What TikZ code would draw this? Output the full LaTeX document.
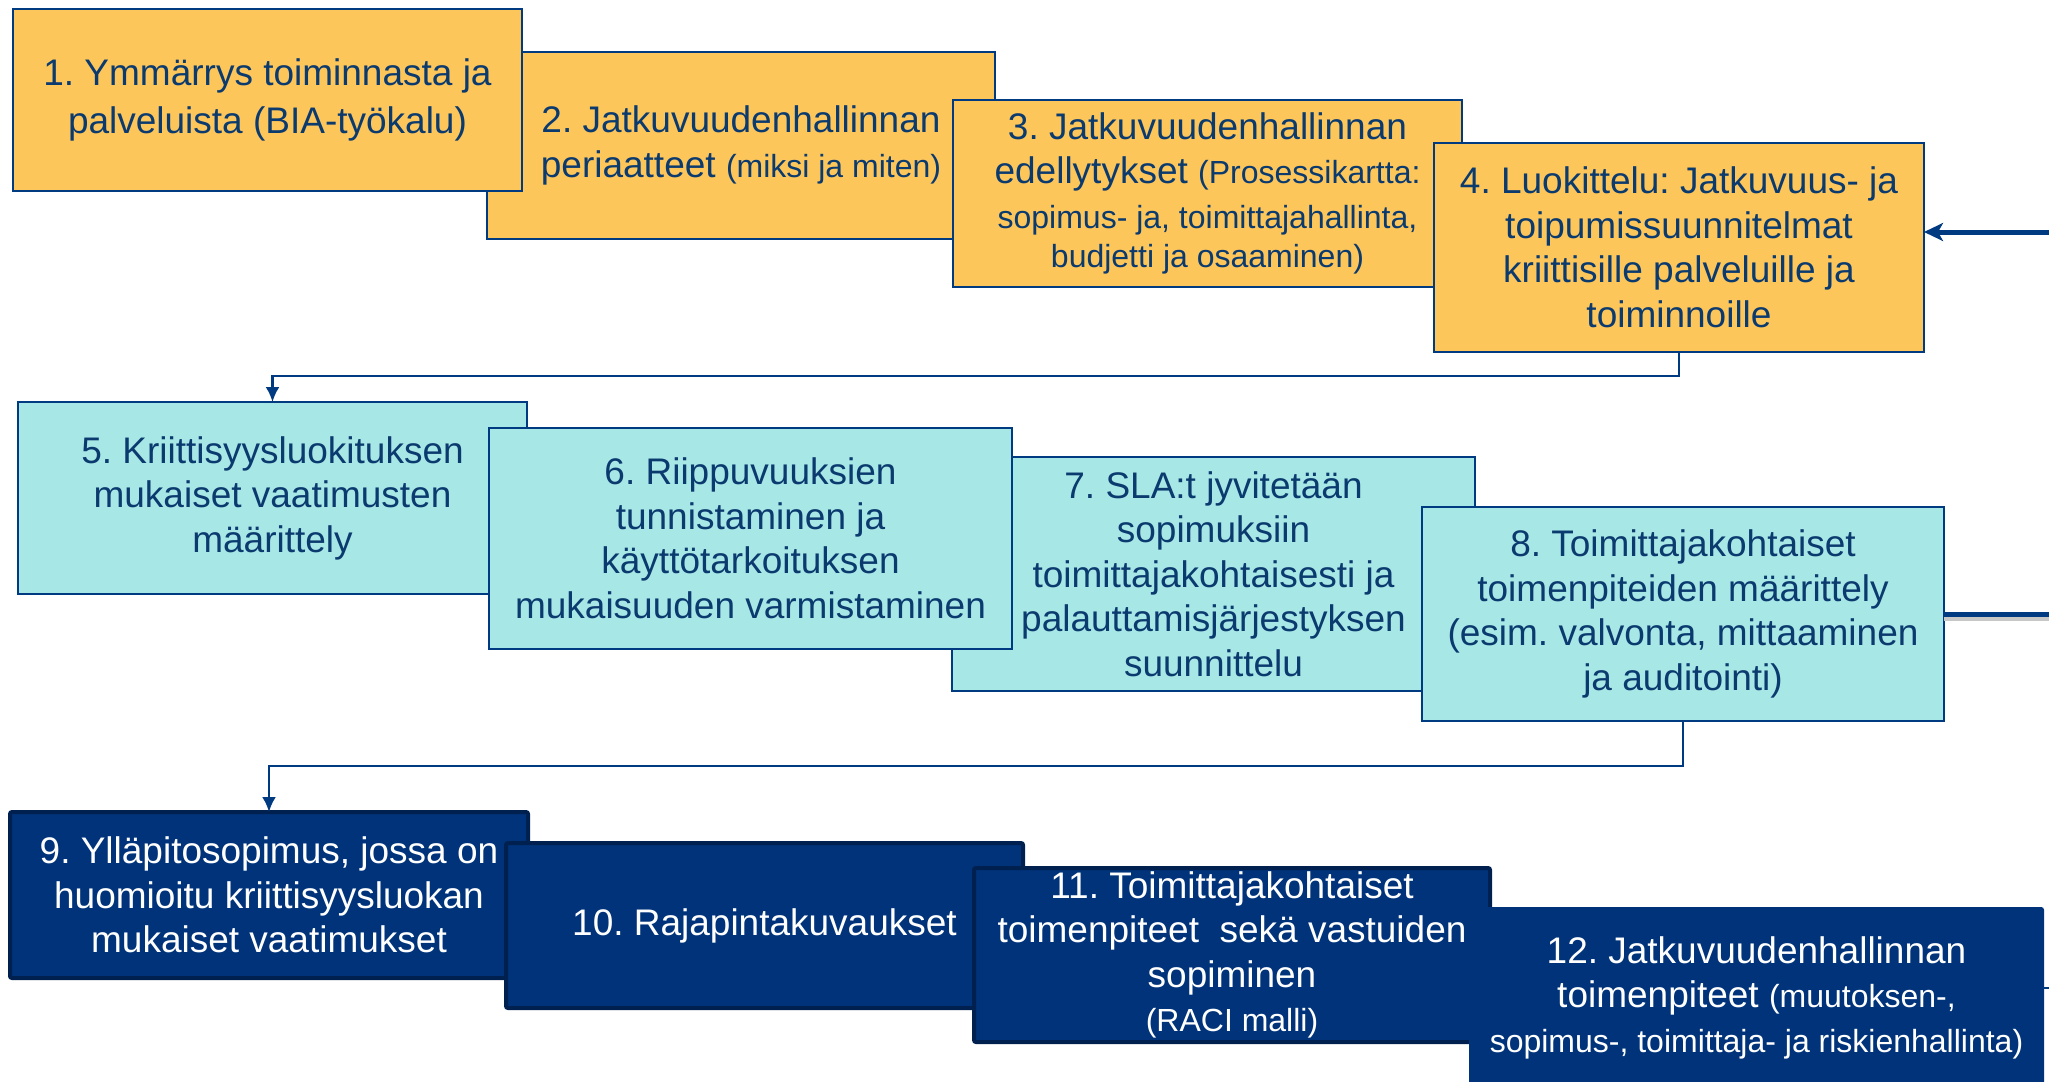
\documentclass[tikz,border=0pt]{standalone}
\usepackage{fontspec}
\setmainfont{Liberation Sans}
\usetikzlibrary{arrows.meta}
\definecolor{orangefill}{HTML}{FDC65A}
\definecolor{cyanfill}{HTML}{A7E7E6}
\definecolor{navyfill}{HTML}{00337A}
\definecolor{navyedge}{HTML}{00214F}
\definecolor{lineblue}{HTML}{003A80}
\definecolor{textblue}{HTML}{0B3A6F}
\newcommand{\mainsz}{\fontsize{37}{44.5}\selectfont\frenchspacing}
\newcommand{\smallsz}{\fontsize{32}{38}\selectfont}
\begin{document}
\begin{tikzpicture}[x=1pt,y=-1pt,
  box/.style={rectangle, inner sep=0pt, outer sep=0pt, align=center, font=\mainsz},
  ybox/.style={box, fill=orangefill, draw=lineblue, line width=2pt, text=textblue},
  cbox/.style={box, fill=cyanfill, draw=lineblue, line width=2pt, text=textblue},
  nbox/.style={box, fill=navyfill, draw=navyedge, line width=4pt, rounded corners=2pt, text=white},
  conn/.style={draw=lineblue, line width=2.5pt, -{Latex[length=15pt,width=14pt]}},
  thickarrow/.style={draw=lineblue, line width=5pt, -{Stealth[length=19pt,width=18pt,inset=5pt]}},
  thickline/.style={draw=lineblue, line width=5pt},
  shade/.style={draw=black!22, line width=4pt}
]
\clip (0,0) rectangle (2049,1081);
\fill[white] (0,0) rectangle (2049,1081);

% Row 1
\node[ybox, minimum width=508, minimum height=187] (b2) at (741,145.5)
  {2. Jatkuvuudenhallinnan\\periaatteet {\smallsz(miksi ja miten)}};
\node[ybox, minimum width=509, minimum height=182] (b1) at (267.5,100)
  {1. Ymmärrys toiminnasta ja\\[3.5pt]palveluista (BIA-työkalu)};
\node[ybox, minimum width=509, minimum height=187] (b3) at (1207.5,193.5)
  {3. Jatkuvuudenhallinnan\\edellytykset {\smallsz(Prosessikartta:}\\{\smallsz sopimus- ja, toimittajahallinta,}\\[-5pt]{\smallsz budjetti ja osaaminen)}};
\node[ybox, minimum width=490, minimum height=209] (b4) at (1679,247.5)
  {4. Luokittelu: Jatkuvuus- ja\\toipumissuunnitelmat\\kriittisille palveluille ja\\toiminnoille};

% Row 2
\node[cbox, minimum width=509, minimum height=192] (b5) at (272.5,498)
  {5. Kriittisyysluokituksen\\mukaiset vaatimusten\\määrittely};
\node[cbox, minimum width=523, minimum height=234] (b7) at (1213.5,574)
  {7. SLA:t jyvitetään\\sopimuksiin\\toimittajakohtaisesti ja\\palauttamisjärjestyksen\\suunnittelu};
\node[cbox, minimum width=523, minimum height=221] (b6) at (750.5,538.5)
  {6. Riippuvuuksien\\tunnistaminen ja\\käyttötarkoituksen\\mukaisuuden varmistaminen};
\node[cbox, minimum width=522, minimum height=214] (b8) at (1683,614)
  {8. Toimittajakohtaiset\\toimenpiteiden määrittely\\(esim. valvonta, mittaaminen\\ja auditointi)};

% Row 3
\node[nbox, minimum width=518, minimum height=166] (b9) at (269,895)
  {9. Ylläpitosopimus, jossa on\\huomioitu kriittisyysluokan\\mukaiset vaatimukset};
\node[nbox, minimum width=517, minimum height=165] (b10) at (764.5,925.5)
  {10. Rajapintakuvaukset};
\node[nbox, minimum width=516, minimum height=174] (b11) at (1232,955)
  {11. Toimittajakohtaiset\\toimenpiteet\ \ sekä vastuiden\\sopiminen\\{\smallsz(RACI malli)}};
\node[nbox, draw=navyfill, line width=2pt, minimum width=573, minimum height=179] (b12) at (1756.5,997.5)
  {12. Jatkuvuudenhallinnan\\toimenpiteet {\smallsz(muutoksen-,}\\{\smallsz sopimus-, toimittaja- ja riskienhallinta)}};

% Connectors
\draw[conn] (b4.south) -- ++(0,24) -| (b5.north);
\draw[conn] (b8.south) -- ++(0,45) -| (b9.north);

\coordinate (in4) at (2049,232);
\coordinate (out8) at (2049,613);
\coordinate (out12) at (2049,988);
\draw[thickarrow] (in4) -- (in4 -| b4.east);
\draw[shade] ([yshift=-5pt]b8.east) -- ([yshift=-5pt]out8 |- b8.east);
\draw[thickline] (b8.east) -- (out8 |- b8.east);
\draw[thickline, line width=2.5pt] (out12 -| b12.east) -- (out12);
\end{tikzpicture}
\end{document}
